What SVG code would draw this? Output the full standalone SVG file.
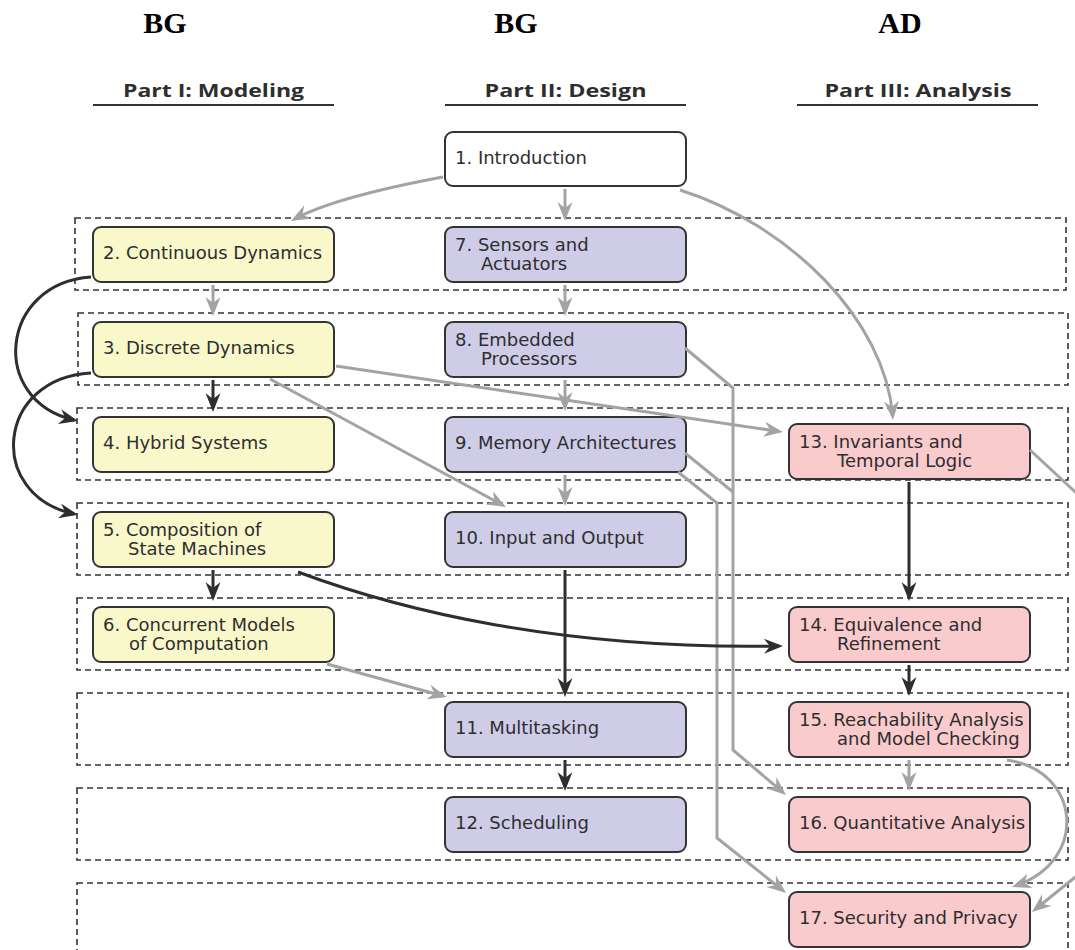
<svg xmlns="http://www.w3.org/2000/svg" width="1075" height="950" viewBox="0 0 1075 950">
<style>
.row{fill:none;stroke:#333;stroke-width:1.6;stroke-dasharray:6 4}
.box{stroke:#333;stroke-width:2}
.wht{fill:#ffffff}.yel{fill:#f9f8cb}.lav{fill:#cfcce8}.pink{fill:#f9cbcd}
.t{font-family:"DejaVu Sans","Noto Sans",sans-serif;font-size:18px;fill:#2e2e2e}
.h{font-family:"Open Sans","DejaVu Sans",sans-serif;font-size:18px;font-weight:700;fill:#2e2e2e}
.big{font-family:"Liberation Serif",serif;font-size:30px;font-weight:700;fill:#000}
.ul{stroke:#333;stroke-width:2}
.g{fill:none;stroke:#a3a3a3;stroke-width:3;marker-end:url(#ag)}
.gn{fill:none;stroke:#a3a3a3;stroke-width:3}
.d{fill:none;stroke:#2e2e2e;stroke-width:3;marker-end:url(#ad)}
</style>
<defs>
<marker id="ag" viewBox="-17 -9 22 18" markerWidth="22" markerHeight="18" refX="0" refY="0" orient="auto" markerUnits="userSpaceOnUse"><path d="M4,0 L-15,-7.5 L-9,0 L-15,7.5 Z" fill="#a3a3a3"/></marker>
<marker id="ad" viewBox="-17 -9 22 18" markerWidth="22" markerHeight="18" refX="0" refY="0" orient="auto" markerUnits="userSpaceOnUse"><path d="M4,0 L-15,-7.5 L-9,0 L-15,7.5 Z" fill="#2e2e2e"/></marker>
</defs>

<g id="headers">
<text class="big" x="165" y="33" text-anchor="middle">BG</text>
<text class="big" x="516" y="33" text-anchor="middle">BG</text>
<text class="big" x="900" y="33" text-anchor="middle">AD</text>
<text class="h" x="213.5" y="97" text-anchor="middle" textLength="181" lengthAdjust="spacingAndGlyphs">Part I: Modeling</text>
<text class="h" x="565.5" y="97" text-anchor="middle" textLength="162" lengthAdjust="spacingAndGlyphs">Part II: Design</text>
<text class="h" x="918" y="97" text-anchor="middle" textLength="187" lengthAdjust="spacingAndGlyphs">Part III: Analysis</text>
<line class="ul" x1="93" y1="105" x2="334" y2="105"/>
<line class="ul" x1="445" y1="105" x2="686" y2="105"/>
<line class="ul" x1="797" y1="105" x2="1038" y2="105"/>
</g>

<g id="rows">
<rect class="row" x="75" y="218" width="991" height="72"/>
<rect class="row" x="78" y="313" width="990" height="72"/>
<rect class="row" x="77" y="408" width="991" height="72"/>
<rect class="row" x="77" y="503" width="991" height="72"/>
<rect class="row" x="77" y="598" width="991" height="72"/>
<rect class="row" x="77" y="693" width="991" height="72"/>
<rect class="row" x="77" y="788" width="991" height="72"/>
<rect class="row" x="77" y="883" width="991" height="90"/>
</g>

<g id="n1"><rect class="box wht" x="445" y="132" width="241" height="54" rx="8"/><text class="t" x="455" y="164">1. Introduction</text></g>
<g id="n2"><rect class="box yel" x="93" y="227" width="241" height="55" rx="8"/><text class="t" x="103" y="259">2. Continuous Dynamics</text></g>
<g id="n3"><rect class="box yel" x="93" y="322" width="241" height="55" rx="8"/><text class="t" x="103" y="354">3. Discrete Dynamics</text></g>
<g id="n4"><rect class="box yel" x="93" y="417" width="241" height="55" rx="8"/><text class="t" x="103" y="449">4. Hybrid Systems</text></g>
<g id="n5"><rect class="box yel" x="93" y="512" width="241" height="55" rx="8"/><text class="t" x="103" y="536">5. Composition of</text><text class="t" x="128" y="555">State Machines</text></g>
<g id="n6"><rect class="box yel" x="93" y="607" width="241" height="55" rx="8"/><text class="t" x="103" y="631">6. Concurrent Models</text><text class="t" x="129" y="650">of Computation</text></g>
<g id="n7"><rect class="box lav" x="445" y="227" width="241" height="55" rx="8"/><text class="t" x="455" y="251">7. Sensors and</text><text class="t" x="481" y="270">Actuators</text></g>
<g id="n8"><rect class="box lav" x="445" y="322" width="241" height="55" rx="8"/><text class="t" x="455" y="346">8. Embedded</text><text class="t" x="481" y="365">Processors</text></g>
<g id="n9"><rect class="box lav" x="445" y="417" width="241" height="55" rx="8"/><text class="t" x="455" y="449">9. Memory Architectures</text></g>
<g id="n10"><rect class="box lav" x="445" y="512" width="241" height="55" rx="8"/><text class="t" x="455" y="544">10. Input and Output</text></g>
<g id="n11"><rect class="box lav" x="445" y="702" width="241" height="55" rx="8"/><text class="t" x="455" y="734">11. Multitasking</text></g>
<g id="n12"><rect class="box lav" x="445" y="797" width="241" height="55" rx="8"/><text class="t" x="455" y="829">12. Scheduling</text></g>
<g id="n13"><rect class="box pink" x="789" y="424" width="241" height="55" rx="8"/><text class="t" x="799" y="448">13. Invariants and</text><text class="t" x="837" y="467">Temporal Logic</text></g>
<g id="n14"><rect class="box pink" x="789" y="607" width="241" height="55" rx="8"/><text class="t" x="799" y="631">14. Equivalence and</text><text class="t" x="837" y="650">Refinement</text></g>
<g id="n15"><rect class="box pink" x="789" y="702" width="241" height="55" rx="8"/><text class="t" x="799" y="726">15. Reachability Analysis</text><text class="t" x="837" y="745">and Model Checking</text></g>
<g id="n16"><rect class="box pink" x="789" y="797" width="241" height="55" rx="8"/><text class="t" x="799" y="829">16. Quantitative Analysis</text></g>
<g id="n17"><rect class="box pink" x="789" y="892" width="241" height="55" rx="8"/><text class="t" x="799" y="924">17. Security and Privacy</text></g>

<g id="connectors">
<path class="g" d="M443,177 C400,185 330,200 294.5,219"/>
<path class="g" d="M565,189 L565,217"/>
<path class="g" d="M680,190 C790,225 885,320 892.7,416"/>
<path class="g" d="M213,285 L213,312"/>
<path class="g" d="M565,285 L565,312"/>
<path class="g" d="M565,380 L565,407"/>
<path class="g" d="M565,475 L565,502"/>
<path class="g" d="M336,366 L779,431.4"/>
<path class="g" d="M270,379 L502.5,505"/>
<path class="g" d="M327,664 L443,696"/>
<path class="g" d="M685,348 L733,388 L733,750 L783,792.4"/>
<path class="gn" d="M685,453 L733,492"/>
<path class="g" d="M678,472 L717,503 L717,838 L782.9,890.5"/>
<path class="g" d="M909,760 L909,787"/>
<path class="g" d="M1007,760 C1080,770 1090,860 1015.8,885.7"/>
<path class="g" d="M1030,450 L1100,515 L1100,857 L1035.1,909.5"/>
<path class="d" d="M91,277 C0,283 -12,400 74.1,420"/>
<path class="d" d="M91,373 C-4,378 -14,495 74.1,514"/>
<path class="d" d="M213,380 L213,408"/>
<path class="d" d="M213,570 L213,597"/>
<path class="d" d="M298,572 C400,610 560,650 779,646"/>
<path class="d" d="M565,570 L565,693"/>
<path class="d" d="M565,760 L565,787"/>
<path class="d" d="M909,482 L909,597"/>
<path class="d" d="M909,665 L909,692"/>
</g>
</svg>
